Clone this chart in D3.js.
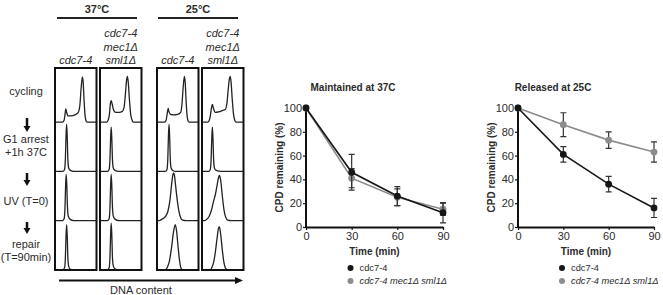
<!DOCTYPE html>
<meta charset="utf-8">
<script src="https://d3js.org/d3.v7.min.js"></script>
<style>
  body { margin: 0; background: #fff; }
  text { font-family: "Liberation Sans", Arial, sans-serif; fill: #2b2b2b; }
</style>
<body>
<script>

// ---- flow cytometry panel data ----
var temps = ["37°C", "25°C"];
var strainLabels = [["cdc7-4"], ["cdc7-4", "mec1Δ", "sml1Δ"], ["cdc7-4"], ["cdc7-4", "mec1Δ", "sml1Δ"]];
var stages = [["cycling"], ["G1 arrest", "+1h 37C"], ["UV (T=0)"], ["repair", "(T=90min)"]];

// DNA content (0-100 across box) vs cell count (0-100 of a row), one list per stage
var hist37_cdc7 = [
  [[0,0],[18,0],[22,4],[24,15],[26,27],[28,20],[31,13],[38,13],[48,15],[56,20],[60,35],[63,70],[66,92],[68,80],[70,45],[72,18],[74,5],[77,0],[100,0]],
  [[0,0],[19,0],[23,4],[25,25],[26.5,70],[28,96],[29.5,70],[31,25],[33,7],[37,2],[45,0],[100,0]],
  [[0,0],[18,0],[22,4],[24,25],[25.5,70],[27,94],[28.5,70],[30,28],[32,9],[36,3],[45,0],[100,0]],
  [[0,0],[19,0],[23,4],[25,25],[26.5,68],[28,92],[29.5,68],[31,25],[33,7],[37,1],[45,0],[100,0]]
];
var hist37_mec1 = [
  [[0,0],[16,0],[20,5],[23,18],[25,38],[27,44],[29,38],[33,24],[38,20],[46,20],[54,22],[58,30],[61,55],[64,85],[66,93],[68,82],[71,45],[74,16],[77,5],[80,0],[100,0]],
  [[0,0],[18,0],[22,4],[24,25],[25.5,66],[27,90],[28.5,66],[30,25],[32,7],[36,2],[45,0],[100,0]],
  [[0,0],[18,0],[22,4],[24,25],[25.5,70],[27,94],[28.5,70],[30,28],[32,9],[36,3],[45,0],[100,0]],
  [[0,0],[18,0],[22,4],[24,25],[25.5,70],[27,95],[28.5,70],[30,25],[32,8],[36,2],[45,0],[100,0]]
];
var hist25_cdc7 = [
  [[0,0],[18,0],[22,4],[24,14],[27,28],[29,21],[33,16],[40,15],[50,16],[57,20],[60,35],[63,70],[66,93],[68,80],[70,45],[72,18],[74,5],[77,0],[100,0]],
  [[0,0],[20,0],[24,4],[26,25],[27.5,70],[29,96],[30.5,70],[32,25],[34,7],[38,2],[45,0],[100,0]],
  [[0,0],[5,0],[12,3],[20,8],[26,18],[31,40],[35,72],[38,92],[40,97],[42,92],[45,70],[49,40],[53,18],[57,6],[62,1],[70,0],[100,0]],
  [[0,0],[20,0],[25,5],[30,18],[35,45],[40,78],[44,92],[47,80],[51,45],[55,15],[58,3],[63,0],[100,0]]
];
var hist25_mec1 = [
  [[0,0],[14,0],[18,5],[21,18],[23,30],[25,36],[27,30],[32,20],[40,21],[50,24],[56,26],[60,38],[63,65],[66,88],[68,93],[70,82],[73,45],[76,16],[79,4],[82,0],[100,0]],
  [[0,0],[16,0],[20,4],[22,25],[23.5,66],[25,90],[26.5,66],[28,25],[30,7],[34,2],[45,0],[100,0]],
  [[0,0],[6,0],[12,3],[18,10],[24,25],[28,40],[32,52],[36,70],[40,88],[42,92],[45,82],[49,50],[53,22],[57,7],[62,1],[70,0],[100,0]],
  [[0,0],[20,0],[24,5],[28,15],[32,35],[36,62],[40,85],[42,87],[45,72],[49,40],[53,14],[57,3],[62,0],[100,0]]
];
var histograms = [hist37_cdc7, hist37_mec1, hist25_cdc7, hist25_mec1];

// ---- repair kinetics data ----
var times = [0, 30, 60, 90];
var timeTicks = [0, 30, 60, 90];
var cpdTicks = [0, 20, 40, 60, 80, 100];
var seriesNames = ["cdc7-4", "cdc7-4 mec1Δ sml1Δ"];
var maint_cdc7 = [100, 46, 26, 12];
var maint_cdc7_err = [0, 15, 8, 8.5];
var maint_mec1 = [100, 41, 25, 15];
var maint_mec1_err = [0, 8, 7, 5];
var rel_cdc7 = [100, 61, 36, 16];
var rel_cdc7_err = [0, 6.5, 6.5, 8];
var rel_mec1 = [100, 86, 73, 63];
var rel_mec1_err = [0, 10, 7, 8.5];

var width = 663, height = 295;
var svg = d3.select("body").append("svg")
    .attr("width", width)
    .attr("height", height);

// ================= left panel =================
var boxLeft = [55, 100, 157, 202];
var boxW = 41.5;
var boxTop = 68, boxBottom = 270;
var rowH = 49.2;

// temperature headers
var tempCenters = [97, 198];
temps.forEach(function(t, i) {
    svg.append("text")
        .attr("x", tempCenters[i]).attr("y", 13)
        .attr("text-anchor", "middle")
        .style("font-size", "11px").style("font-weight", "bold")
        .text(t);
    svg.append("line")
        .attr("x1", tempCenters[i] - 40).attr("x2", tempCenters[i] + 40)
        .attr("y1", 18).attr("y2", 18)
        .attr("stroke", "#222").attr("stroke-width", 2);
});

// strain labels
strainLabels.forEach(function(lines, i) {
    var cx = boxLeft[i] + boxW / 2;
    lines.forEach(function(s, j) {
        svg.append("text")
            .attr("x", cx)
            .attr("y", 64 - (lines.length - 1 - j) * 13.5)
            .attr("text-anchor", "middle")
            .style("font-size", "11px").style("font-style", "italic")
            .text(s);
    });
});

// histograms
var xh = d3.scaleLinear().domain([0, 100]);
var yh = d3.scaleLinear().domain([0, 100]).range([0, -rowH]);

histograms.forEach(function(rows, i) {
    xh.range([boxLeft[i], boxLeft[i] + boxW]);
    var g = svg.append("g");
    rows.forEach(function(pts, r) {
        var base = boxTop + 5 + rowH * (r + 1);
        var line = d3.line()
            .x(function(d) { return xh(d[0]); })
            .y(function(d) { return base + yh(d[1]); })
            .curve(d3.curveMonotoneX);
        g.append("path")
            .attr("d", line(pts))
            .attr("fill", "none")
            .attr("stroke", "#222")
            .attr("stroke-width", 1.3);
    });
    svg.append("rect")
        .attr("x", boxLeft[i]).attr("y", boxTop)
        .attr("width", boxW).attr("height", boxBottom - boxTop)
        .attr("fill", "none")
        .attr("stroke", "#111")
        .attr("stroke-width", 2);
});

// stage labels and arrows
var stageY = [[95], [143, 156], [205], [248, 261]];
stages.forEach(function(lines, i) {
    lines.forEach(function(s, j) {
        svg.append("text")
            .attr("x", 26).attr("y", stageY[i][j])
            .attr("text-anchor", "middle")
            .style("font-size", "11px")
            .text(s);
    });
});
var arrowY = [[118, 132], [173, 186], [222, 234]];
arrowY.forEach(function(a) {
    svg.append("line")
        .attr("x1", 27).attr("x2", 27)
        .attr("y1", a[0]).attr("y2", a[1] - 5)
        .attr("stroke", "#111").attr("stroke-width", 2.5);
    svg.append("path")
        .attr("d", "M" + 23.5 + "," + (a[1] - 6) + "L" + 30.5 + "," + (a[1] - 6) + "L27," + a[1] + "Z")
        .attr("fill", "#111");
});

// DNA content arrow
svg.append("line")
    .attr("x1", 59).attr("x2", 236)
    .attr("y1", 280.5).attr("y2", 280.5)
    .attr("stroke", "#111").attr("stroke-width", 2.2);
svg.append("path")
    .attr("d", "M235,277L243,280.5L235,284Z")
    .attr("fill", "#111");
svg.append("text")
    .attr("x", 141).attr("y", 294)
    .attr("text-anchor", "middle")
    .style("font-size", "11px")
    .text("DNA content");

// ================= line charts =================
function drawChart(x0, x1, title, titleX, s1, e1, s2, e2) {
    var x = d3.scaleLinear().domain([0, 90]).range([x0, x1]);
    var y = d3.scaleLinear().domain([0, 100]).range([227, 108]);
    var g = svg.append("g");

    g.append("text")
        .attr("x", titleX).attr("y", 91)
        .attr("text-anchor", "middle")
        .style("font-size", "10px").style("font-weight", "bold")
        .text(title);

    // axes
    var yAxis = g.append("g")
        .attr("transform", "translate(" + x0 + ",0)")
        .call(d3.axisLeft(y).tickValues(cpdTicks).tickSize(3).tickSizeOuter(0));
    var xAxis = g.append("g")
        .attr("transform", "translate(0,227)")
        .call(d3.axisBottom(x).tickValues(timeTicks).tickSize(3).tickSizeOuter(0));
    [xAxis, yAxis].forEach(function(a) {
        a.select(".domain").attr("stroke", "#111").attr("stroke-width", 2);
        a.selectAll(".tick line").attr("stroke", "#111").attr("stroke-width", 1.2);
        a.selectAll(".tick text")
            .style("font-size", "11px")
            .style("font-family", "Liberation Sans, Arial, sans-serif")
            .attr("fill", "#333");
    });
    yAxis.select(".domain").attr("d", "M0," + (y(100) - 3) + "V" + y(0));
    xAxis.selectAll(".tick text").attr("dy", "0.6em");
    yAxis.selectAll(".tick text").attr("x", -4);

    g.append("text")
        .attr("x", (x0 + x1) / 2).attr("y", 255)
        .attr("text-anchor", "middle")
        .style("font-size", "10px").style("font-weight", "bold")
        .text("Time (min)");
    g.append("text")
        .attr("transform", "translate(" + (x0 - 23) + "," + y(50) + ") rotate(-90)")
        .attr("text-anchor", "middle")
        .style("font-size", "10px").style("font-weight", "bold")
        .text("CPD remaining (%)");

    var series = [
        {vals: s2, err: e2, color: "#8c8c8c"},
        {vals: s1, err: e1, color: "#161616"}
    ];
    var line = d3.line()
        .x(function(d, i) { return x(times[i]); })
        .y(function(d) { return y(d); });
    series.forEach(function(s) {
        g.append("path")
            .attr("d", line(s.vals))
            .attr("fill", "none")
            .attr("stroke", s.color)
            .attr("stroke-width", 1.6);
        s.vals.forEach(function(v, i) {
            if (s.err[i] > 0) {
                var top = y(v + s.err[i]), bot = y(v - s.err[i]), cx = x(times[i]);
                g.append("path")
                    .attr("d", "M" + cx + "," + top + "V" + bot +
                          "M" + (cx - 3) + "," + top + "H" + (cx + 3) +
                          "M" + (cx - 3) + "," + bot + "H" + (cx + 3))
                    .attr("fill", "none")
                    .attr("stroke", "#333")
                    .attr("stroke-width", 1.2);
            }
        });
        g.selectAll(null)
            .data(s.vals)
            .enter()
            .append("circle")
            .attr("cx", function(d, i) { return x(times[i]); })
            .attr("cy", function(d) { return y(d); })
            .attr("r", 3.4)
            .attr("fill", s.color);
    });

    // legend
    var lx = (x0 + x1) / 2 - 24;
    [["#161616", "normal"], ["#8c8c8c", "italic"]].forEach(function(l, i) {
        g.append("circle")
            .attr("cx", lx).attr("cy", 268 + i * 13)
            .attr("r", 3).attr("fill", l[0]);
        g.append("text")
            .attr("x", lx + 9).attr("y", 268 + i * 13)
            .attr("dy", "0.35em")
            .style("font-size", "9.3px").style("font-style", l[1])
            .attr("fill", "#333")
            .text(seriesNames[i]);
    });
}

drawChart(306, 443, "Maintained at 37C", 353, maint_cdc7, maint_cdc7_err, maint_mec1, maint_mec1_err);
drawChart(518, 654, "Released at 25C", 553, rel_cdc7, rel_cdc7_err, rel_mec1, rel_mec1_err);

</script>
</body>
